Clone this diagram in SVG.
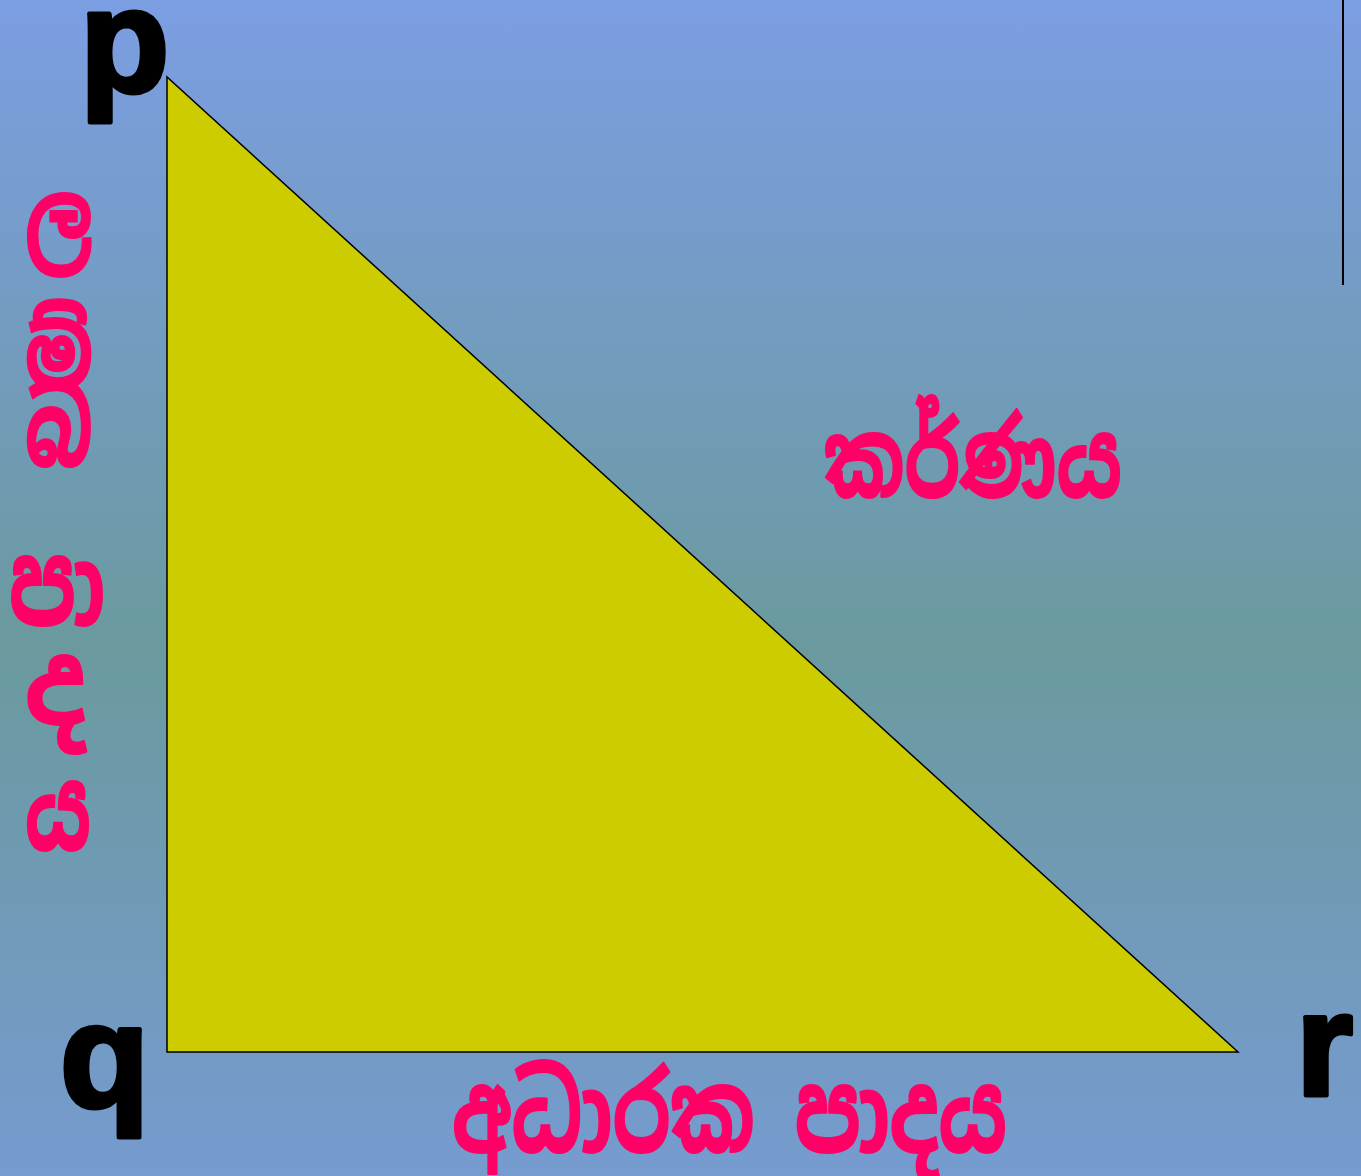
<svg xmlns="http://www.w3.org/2000/svg" width="1361" height="1176" viewBox="0 0 1361 1176">
  <defs>
    <linearGradient id="bg" x1="0" y1="0" x2="0" y2="1">
      <stop offset="0" stop-color="#7C9EE3"/>
      <stop offset="0.55" stop-color="#6A9A9E"/>
      <stop offset="1" stop-color="#769BD0"/>
    </linearGradient>
  </defs>
  <style>
    .lbl { font-family: "Liberation Sans", Arial, sans-serif; font-weight: bold; fill: #000; stroke: #000; stroke-width: 5; stroke-linejoin: round; }
    .si { font-family: "Noto Sans Sinhala", "Iskoola Pota", "Noto Sans", sans-serif; font-weight: bold; fill: #FF0066; stroke: #FF0066; stroke-width: 2; stroke-linejoin: round; }
  </style>
  <rect x="0" y="0" width="1361" height="1176" fill="url(#bg)"/>
  <line x1="1343" y1="0" x2="1343" y2="285" stroke="#000" stroke-width="2"/>
  <g id="triangle">
    <polygon points="167,77 167,1052 1238,1052" fill="#CCCC00" stroke="#000" stroke-width="1.5"/>
  </g>
  <g id="label-p"><text class="lbl" x="80" y="92" font-size="146">p</text></g>
  <g id="label-q"><text class="lbl" x="60" y="1107" font-size="146">q</text></g>
  <g id="label-r"><text class="lbl" x="1296" y="1095" font-size="146">r</text></g>
  <g id="hypotenuse"><text class="si" x="824" y="497" font-size="104" textLength="298" lengthAdjust="spacingAndGlyphs">කර්ණය</text></g>
  <g id="base"><text class="si" x="452" y="1152" font-size="110" textLength="555" lengthAdjust="spacingAndGlyphs">අධාරක පාදය</text></g>
  <g id="perpendicular">
    <text class="si" x="25" y="254" font-size="100" textLength="68" lengthAdjust="spacingAndGlyphs">ල</text>
    <text class="si" x="25" y="389" font-size="92" textLength="68" lengthAdjust="spacingAndGlyphs">ම්</text>
    <text class="si" x="25" y="466" font-size="104" textLength="68" lengthAdjust="spacingAndGlyphs">බ</text>
    <text class="si" x="9" y="625" font-size="112" textLength="96" lengthAdjust="spacingAndGlyphs">පා</text>
    <text class="si" x="25" y="724" font-size="112" textLength="60" lengthAdjust="spacingAndGlyphs">ද</text>
    <text class="si" x="25" y="850" font-size="112" textLength="66" lengthAdjust="spacingAndGlyphs">ය</text>
  </g>
</svg>
